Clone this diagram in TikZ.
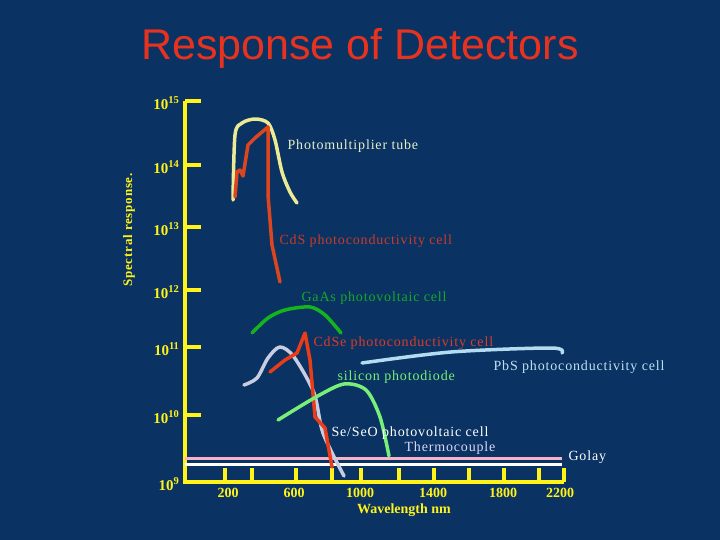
\documentclass[tikz,border=0pt]{standalone}
\usepackage{fontspec}
\setmainfont{Liberation Serif}
\newfontfamily\titlefont{Liberation Sans}
\newfontfamily\spaced[LetterSpace=6]{Liberation Serif}
\begin{document}
\begin{tikzpicture}[x=1pt,y=-1pt,
  ax/.style={draw=yellow!90!white,line width=3.5pt},
  ylab/.style={text=yellow!90!white,font=\fontsize{15}{17}\selectfont\bfseries,anchor=east},
  xlab/.style={text=yellow!90!white,font=\fontsize{14}{16}\selectfont\bfseries},
  lab/.style={font=\spaced\fontsize{14}{16}\selectfont,anchor=west},
  crv/.style={line width=3.5pt,line cap=round,line join=round}]
\definecolor{bg}{RGB}{10,50,98}
\fill[bg] (0,0) rectangle (720,540);
\useasboundingbox (0,0) rectangle (720,540);
\node[text={rgb,255:red,230;green,50;blue,30},font=\titlefont\fontsize{43}{47}\selectfont] (title) at (360,48) {Response of Detectors};
\node[rotate=90,text=yellow!90!white,font=\spaced\fontsize{13}{15}\selectfont\bfseries] (sr) at (129,230) {Spectral response.};
% axes
\draw[ax] (185,101) -- (185,482) -- (564,482);
\foreach \y/\e in {101/15,165/14,227/13,290/12,347/11,415/10,482/9}{
  \draw[ax] (185,\y) -- (201,\y);
  \node[ylab] at (183,\y+2) {10\textsuperscript{\e}};}
\foreach \x in {225,252,296,332,361,399,434,469,504,539,564}{
  \draw[ax] (\x,482) -- (\x,468);}
\foreach \x/\t in {228/200,294/600,360/1000,433/1400,503/1800,560/2200}{
  \node[xlab] at (\x,493) {\t};}
\node[xlab] (wl) at (404,510) {Wavelength nm};
% horizontal lines
\draw[line width=3pt,draw={rgb,255:red,245;green,180;blue,200}] (185,458) -- (562,458);
\draw[line width=3pt,draw=white] (185,464) -- (562,464);
% curves
\draw[crv,draw={rgb,255:red,235;green,235;blue,150}] plot[smooth] coordinates {(233,200)(235,135)(242,123)(255,119)(268,123)(275,140)(282,172)(290,192)(297,203)};
\draw[crv,draw={rgb,255:red,220;green,70;blue,30}] plot coordinates {(235,197)(237,172)(240,170)(243,176)(248,145)(255,138)(268,127)(268,195)(272,245)(280,282)};
\draw[crv,draw={rgb,255:red,20;green,180;blue,30}] plot[smooth] coordinates {(252,333)(268,318)(285,310)(310,307)(325,315)(341,333)};
\draw[crv,draw={rgb,255:red,200;green,205;blue,225}] plot[smooth] coordinates {(244,385)(257,378)(268,358)(280,347)(294,357)(314,393)(323,433)(344,476)};
\draw[crv,draw={rgb,255:red,235;green,60;blue,25}] plot coordinates {(270,372)(285,360)(297,353)(305,333)(310,360)(315,417)(325,428)(332,467)};
\draw[crv,draw={rgb,255:red,120;green,240;blue,120}] plot[smooth] coordinates {(278,420)(316,397)(344,384)(366,390)(380,417)(389,456)};
\draw[crv,draw={rgb,255:red,180;green,220;blue,240}] plot[smooth] coordinates {(362,363)(451,352)(551,348)(562,353)};
% labels
\node[lab,text={rgb,255:red,230;green,240;blue,200}] (pmt) at (284,146) {Photomultiplier tube};
\node[lab,text={rgb,255:red,200;green,60;blue,40}] (cds) at (276,241) {CdS photoconductivity cell};
\node[lab,text={rgb,255:red,20;green,170;blue,40}] (gaas) at (298,298) {GaAs photovoltaic cell};
\node[lab,text={rgb,255:red,220;green,60;blue,40}] (cdse) at (310,343) {CdSe photoconductivity cell};
\node[lab,text={rgb,255:red,120;green,240;blue,120}] (si) at (334,377) {silicon photodiode};
\node[lab,text={rgb,255:red,190;green,225;blue,245}] (pbs) at (490,367) {PbS photoconductivity cell};
\node[lab,text=white] (se) at (328,433) {Se/SeO photovoltaic cell};
\node[lab,text={rgb,255:red,220;green,215;blue,245}] (tc) at (401,448) {Thermocouple};
\node[lab,text=white] (golay) at (565,457) {Golay};
\end{tikzpicture}
\end{document}
